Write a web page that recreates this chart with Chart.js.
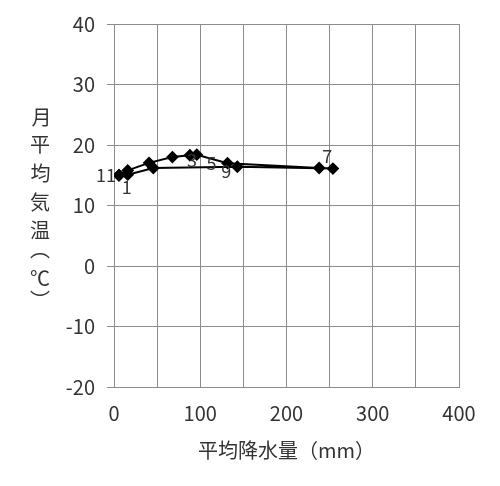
<!DOCTYPE html>
<html>
<head>
<meta charset="utf-8">
<script src="https://cdn.jsdelivr.net/npm/chart.js@4"></script>
<style>
html,body{margin:0;padding:0;background:#fff;}
#wrap{width:500px;height:486px;position:relative;}
</style>
</head>
<body>
<div id="wrap"><canvas id="c" width="500" height="486"></canvas></div>
<script>
// Data (precipitation mm, temperature °C), in drawing order
const precip = [5.8, 15.9, 40.6, 67.7, 88, 96, 131.6, 237.9, 253.8, 143, 45.6, 15.9];
const temp   = [15.0, 15.8, 17.05, 18.0, 18.3, 18.4, 17.0, 16.2, 16.1, 16.4, 16.2, 15.1];
const pointLabels = ['11', '', '', '', '3', '', '5', '7', '', '9', '', '1'];
const xTicks = [0, 100, 200, 300, 400];
const yTicks = [-20, -10, 0, 10, 20, 30, 40];
const xTitle = '平均降水量（mm）';
const yTitleChars = ['月', '平', '均', '気', '温', '︵', '℃', '︶'];

const FONT = "'Noto Sans CJK JP', 'Noto Sans', sans-serif";
const TXT = '#333333';
const GRID = '#8c8c8c';

// label placement (style, not data)
const labelOffsets = {
  '11': [-13, 0], '1': [-1, 13], '3': [2, 5], '5': [-16, 0], '9': [-11, 4], '7': [8, -12]
};

const pts = precip.map((p, i) => ({x: p, y: temp[i]}));
pts.push({x: precip[0], y: temp[0]});

const labelPlugin = {
  id: 'ptLabels',
  afterDatasetsDraw(chart) {
    const ctx = chart.ctx;
    const xs = chart.scales.x, ys = chart.scales.y;
    ctx.save();
    ctx.font = '18px ' + FONT;
    ctx.fillStyle = TXT;
    ctx.textAlign = 'center';
    ctx.textBaseline = 'middle';
    pointLabels.forEach((t, i) => {
      if (!t) return;
      const off = labelOffsets[t] || [0, 0];
      ctx.fillText(t, xs.getPixelForValue(precip[i]) + off[0], ys.getPixelForValue(temp[i]) + off[1]);
    });
    ctx.restore();
  }
};

const yTitlePlugin = {
  id: 'yTitleV',
  afterDraw(chart) {
    const ctx = chart.ctx;
    ctx.save();
    ctx.fillStyle = TXT;
    ctx.textAlign = 'left';
    ctx.textBaseline = 'alphabetic';
    ctx.font = '20px ' + FONT;
    const ys = [117, 145, 173, 202, 230, 256, 278, 293];
    yTitleChars.forEach((ch, i) => {
      const m = ctx.measureText(ch);
      // centre the glyph's ink on (40, ys[i])
      const inkCx = (m.actualBoundingBoxRight - m.actualBoundingBoxLeft) / 2;
      const inkCy = (m.actualBoundingBoxDescent - m.actualBoundingBoxAscent) / 2;
      ctx.fillText(ch, 40 - inkCx, ys[i] - inkCy);
    });
    ctx.restore();
  }
};

const bgPlugin = {
  id: 'bg',
  beforeDraw(chart) {
    const ctx = chart.ctx;
    ctx.save();
    ctx.fillStyle = '#fff';
    ctx.fillRect(0, 0, chart.width, chart.height);
    ctx.restore();
  }
};

new Chart(document.getElementById('c'), {
  type: 'scatter',
  data: {
    datasets: [{
      data: pts,
      showLine: true,
      borderColor: '#000',
      backgroundColor: '#000',
      borderWidth: 2,
      pointStyle: 'rectRot',
      pointRadius: 5,
      pointHoverRadius: 5,
      tension: 0
    }]
  },
  options: {
    responsive: false,
    animation: false,
    devicePixelRatio: 1,
    layout: { padding: { top: 21, right: 41, left: 0, bottom: 24 } },
    plugins: { legend: { display: false }, tooltip: { enabled: false } },
    scales: {
      x: {
        type: 'linear',
        min: 0, max: 400,
        ticks: {
          stepSize: 50,
          autoSkip: false,
          maxRotation: 0,
          padding: 14,
          color: TXT,
          font: { family: FONT, size: 20 },
          callback: v => xTicks.includes(v) ? String(v) : ''
        },
        grid: { color: GRID, lineWidth: 1, drawTicks: false },
        border: { color: GRID, width: 1 },
        title: { display: true, text: xTitle, color: TXT, font: { family: FONT, size: 20 }, padding: { top: 6, bottom: 0 } },
        afterFit(s) { s.height = 75; }
      },
      y: {
        type: 'linear',
        min: -20, max: 40,
        ticks: {
          stepSize: 10,
          autoSkip: false,
          padding: 12,
          color: TXT,
          font: { family: FONT, size: 20 },
          callback: v => yTicks.includes(v) ? String(v) : ''
        },
        grid: { color: GRID, lineWidth: 1, tickLength: 7 },
        border: { color: GRID, width: 1 },
        afterFit(s) { s.width = 114; }
      }
    }
  },
  plugins: [bgPlugin, labelPlugin, yTitlePlugin]
});
</script>
</body>
</html>
